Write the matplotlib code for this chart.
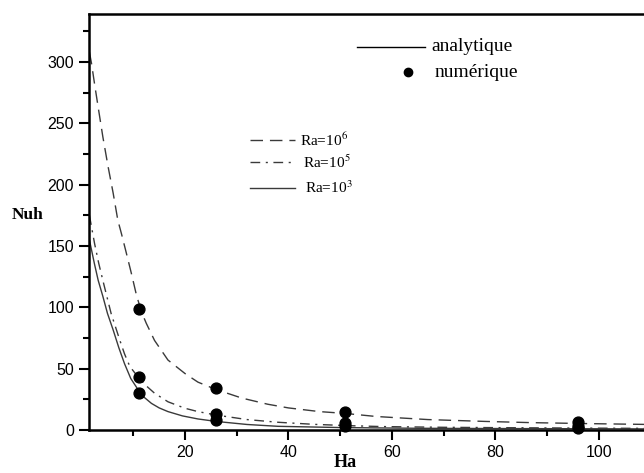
import matplotlib
matplotlib.use("Agg")
import matplotlib.pyplot as plt
from matplotlib.lines import Line2D
from matplotlib.ticker import MultipleLocator

plt.rcParams['mathtext.fontset'] = 'stix'

# analytical curves
ha_ra6 = [1.5, 1.9, 2.5, 3.2, 4.1, 5.1, 6.1, 7.0, 7.7, 8.6, 9.6, 10.6, 11.6, 12.5, 14.1,
          16.7, 20, 22.5, 26, 31, 36, 40, 46, 51, 57, 67, 78, 87, 98, 110]
nu_ra6 = [308, 299, 282, 263, 239, 215, 193, 171, 160, 145, 128, 110, 96, 87, 73,
          57, 46, 39, 33, 26, 21, 18, 15, 13.5, 11, 8.5, 7.0, 6.0, 5.2, 4.5]

ha_ra5 = [1.5, 2.5, 3.3, 4.1, 5.7, 7.4, 8.3, 9.3, 10.2, 11, 12.5, 14.1, 16.7, 20, 22.5,
          26, 32, 38, 45, 52, 58, 70, 85, 100, 110]
nu_ra5 = [175, 152, 136, 122, 95, 73, 62, 52, 47, 43, 36, 30, 23, 17.7, 15,
          12.2, 8.5, 6.3, 4.6, 3.5, 2.8, 2.2, 1.8, 1.5, 1.3]

ha_ra3 = [1.5, 2.5, 3.2, 4.1, 5, 6.1, 7.2, 8.3, 9.5, 10.9, 12, 13.5, 15, 16.7, 19.5,
          22.5, 26, 32, 38, 50, 65, 80, 100, 110]
nu_ra3 = [155, 135, 122, 109, 95, 81.5, 67, 54, 42, 33, 27, 21.7, 18, 15, 11.5,
          9.0, 7.0, 4.5, 3.0, 2.0, 1.4, 1.2, 1.0, 0.9]

# numerical results
ha_num = [11, 26, 51, 96]
num_ra6 = [99, 34, 15, 6.5]
num_ra5 = [43, 13, 6, 3]
num_ra3 = [30, 8, 3, 2]

fig = plt.figure(figsize=(6.44, 4.73), dpi=100)
ax = fig.add_axes([0.1388, 0.0909, 0.871, 0.8795])

curve_col = '#3a3a3a'
ax.plot(ha_ra6, nu_ra6, color=curve_col, lw=1.0, dashes=(9, 5))
ax.plot(ha_ra5, nu_ra5, color=curve_col, lw=1.0, dashes=(7, 4, 1.5, 4))
ax.plot(ha_ra3, nu_ra3, color=curve_col, lw=1.0)

for vals in [num_ra6, num_ra5, num_ra3]:
    ax.plot(ha_num, vals, 'o', color='black', ms=7.8, clip_on=False, zorder=5)

ax.set_xlim(1.5, 110)
ax.set_ylim(0, 339)
ax.xaxis.set_major_locator(MultipleLocator(20))
ax.xaxis.set_minor_locator(MultipleLocator(10))
ax.yaxis.set_major_locator(MultipleLocator(50))
ax.yaxis.set_minor_locator(MultipleLocator(25))
ax.tick_params(which='major', direction='out', length=7, width=1.5, labelsize=11.5, pad=4)
ax.tick_params(which='minor', direction='out', length=4, width=1.5)
for lab in ax.get_xticklabels() + ax.get_yticklabels():
    lab.set_family('Liberation Sans')
for s in ax.spines.values():
    s.set_linewidth(1.8)

ax.set_xlabel('Ha', family='Liberation Serif', fontweight='bold', fontsize=13)
ax.xaxis.set_label_coords(0.456, -0.077)
ax.xaxis.label.set_va('center')
ax.set_ylabel('Nuh', family='Liberation Serif', fontweight='bold', fontsize=12.5,
              rotation=0, va='center', ha='center')
ax.yaxis.set_label_coords(-0.111, 0.517)

# first legend box
tr = ax.transAxes
ax.add_line(Line2D([0.477, 0.598], [0.921, 0.921], color='black', lw=1.0, transform=tr))
ax.plot([0.568], [0.860], 'o', color='black', ms=6, transform=tr)
ax.text(0.61, 0.921, 'analytique', transform=tr, family='Liberation Serif',
        fontsize=14, va='center')
ax.text(0.615, 0.860, 'numérique', transform=tr, family='Liberation Serif',
        fontsize=14, va='center')

# second legend box
ax.add_line(Line2D([0.287, 0.367], [0.697, 0.697], color=curve_col, lw=1.0,
                   dashes=(9, 5), transform=tr))
ax.add_line(Line2D([0.287, 0.367], [0.644, 0.644], color=curve_col, lw=1.0,
                   dashes=(7, 4, 1.5, 4), transform=tr))
ax.add_line(Line2D([0.287, 0.367], [0.582, 0.582], color=curve_col, lw=1.0, transform=tr))
ax.text(0.376, 0.697, r'Ra=10$^{6}$', transform=tr, family='Liberation Serif',
        fontsize=11, va='center')
ax.text(0.381, 0.644, r'Ra=10$^{5}$', transform=tr, family='Liberation Serif',
        fontsize=11, va='center')
ax.text(0.385, 0.582, r'Ra=10$^{3}$', transform=tr, family='Liberation Serif',
        fontsize=11, va='center')

fig.savefig('out.png', dpi=100)
